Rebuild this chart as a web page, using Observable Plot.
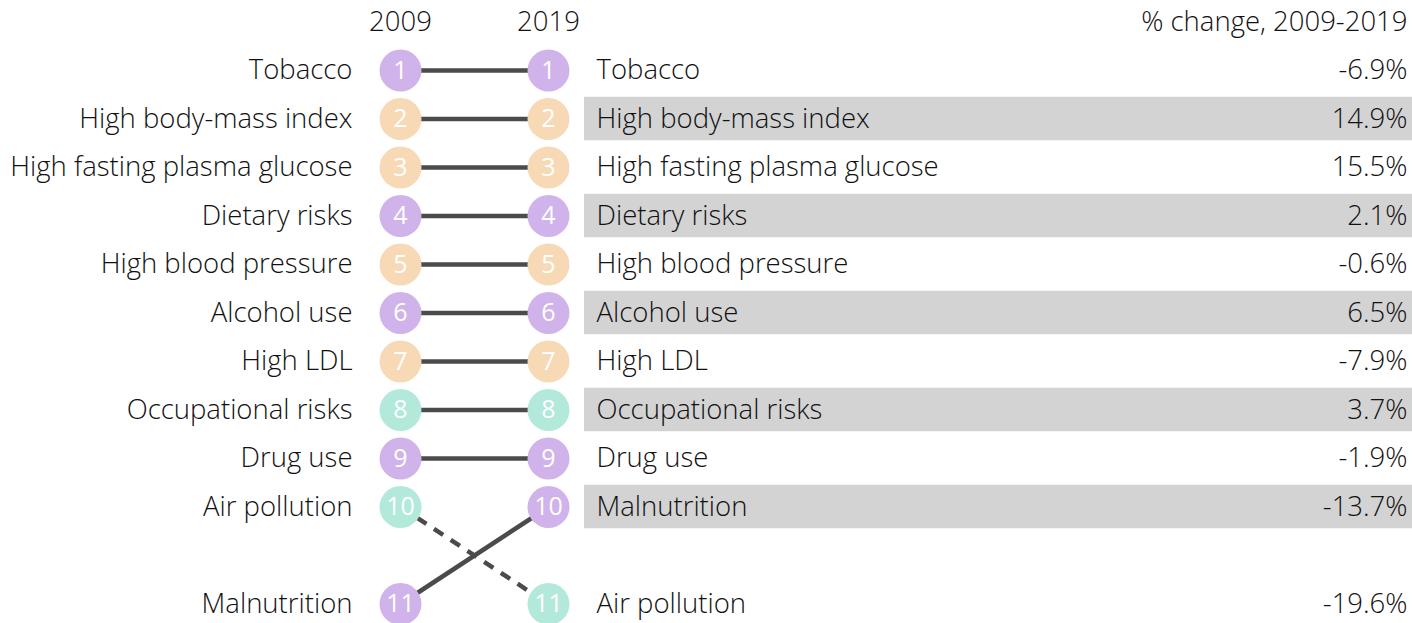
<!DOCTYPE html>
<html>
<head>
<meta charset="utf-8">
<script src="https://cdn.jsdelivr.net/npm/d3@7"></script>
<script src="https://cdn.jsdelivr.net/npm/@observablehq/plot@0.6"></script>
<style>
  html, body { margin: 0; padding: 0; background: #fff; }
  #chart svg { display: block; }
</style>
</head>
<body>
<div id="chart"></div>
<script>
// Data
const risks = ["Tobacco", "High body-mass index", "High fasting plasma glucose", "Dietary risks",
  "High blood pressure", "Alcohol use", "High LDL", "Occupational risks", "Drug use",
  "Air pollution", "Malnutrition"];
const rank2009 = [1, 2, 3, 4, 5, 6, 7, 8, 9, 10, 11];
const rank2019 = [1, 2, 3, 4, 5, 6, 7, 8, 9, 11, 10];
const riskGroup = ["behavioral", "metabolic", "metabolic", "behavioral", "metabolic", "behavioral",
  "metabolic", "environmental", "behavioral", "environmental", "behavioral"];
const pctChange = [-6.9, 14.9, 15.5, 2.1, -0.6, 6.5, -7.9, 3.7, -1.9, -19.6, -13.7];
const years = [2009, 2019];
const groupNames = ["behavioral", "metabolic", "environmental"];
const groupColors = ["#cfb3ea", "#f8d9b6", "#b2e9db"];

// Row position: rank 11 is pushed down one extra row
const pos = r => (r <= 10 ? r : r + 1);

const rows = risks.map((name, i) => ({
  name, r09: rank2009[i], r19: rank2019[i], group: riskGroup[i], pct: pctChange[i],
  p09: pos(rank2009[i]), p19: pos(rank2019[i]), down: rank2019[i] > rank2009[i]
}));
const dots = rows.flatMap(d => [
  {year: 2009, rank: d.r09, p: d.p09, group: d.group},
  {year: 2019, rank: d.r19, p: d.p19, group: d.group}
]);
const right = rows.slice().sort((a, b) => a.r19 - b.r19);

const W = 1412, H = 623;
const x0 = 400, x1 = 548;             // pixel positions of year columns
const pxPerYear = (x1 - x0) / 10;
const xEdge = 2019 + (W - x1) / pxPerYear; // year value at the right edge

const font = "'Open Sans', sans-serif";
const fs = 27.5;

const plot = Plot.plot({
  width: W,
  height: H,
  marginLeft: 0, marginRight: 5, marginTop: 0, marginBottom: 0,
  x: {domain: [2009, 2019], range: [x0, x1], axis: null},
  y: {domain: [0, 12], range: [21.5, 603.5], axis: null},
  color: {domain: groupNames, range: groupColors},
  style: {fontFamily: font, fontWeight: 300, color: "#222", background: "#fff"},
  marks: [
    // alternating bands in the right table
    Plot.rect(right.filter(d => d.r19 % 2 === 0), {
      x1: () => 2019, x2: () => xEdge, y1: d => d.p19 - 0.5, y2: d => d.p19 + 0.5,
      insetLeft: 36, insetTop: 2.5, insetBottom: 2.5, fill: "#d3d3d3"
    }),
    // slope links (solid for kept/raised rank, dashed for lowered)
    Plot.link(rows.filter(d => !d.down), {
      x1: () => 2009, x2: () => 2019, y1: "p09", y2: "p19",
      stroke: "#4b4b4b", strokeWidth: 4.5
    }),
    Plot.link(rows.filter(d => d.down), {
      x1: () => 2009, x2: () => 2019, y1: "p09", y2: "p19",
      stroke: "#4b4b4b", strokeWidth: 4.5, strokeDasharray: "11,9"
    }),
    Plot.dot(dots, {x: "year", y: "p", r: 21, fill: "group", stroke: null}),
    Plot.text(dots, {x: "year", y: "p", text: d => String(d.rank), fill: "white",
      fontSize: 25, fontWeight: 400}),
    // year headers
    Plot.text(years, {x: d => d, y: () => 0, text: d => String(d), fontSize: fs, fill: "#111"}),
    // header for pct
    Plot.text(["% change, 2009-2019"], {y: () => 0, frameAnchor: "right", textAnchor: "end",
      text: d => d, fontSize: fs, fill: "#111"}),
    // left labels
    Plot.text(rows, {x: () => 2009, y: "p09", text: "name", textAnchor: "end", dx: -48,
      fontSize: fs, fill: "#111"}),
    // right labels
    Plot.text(right, {x: () => 2019, y: "p19", text: "name", textAnchor: "start", dx: 48,
      fontSize: fs, fill: "#111"}),
    // pct values
    Plot.text(right, {y: "p19", frameAnchor: "right", textAnchor: "end",
      text: d => d.pct.toFixed(1) + "%", fontSize: fs, fill: "#111"})
  ]
});
document.getElementById("chart").appendChild(plot);
</script>
</body>
</html>
